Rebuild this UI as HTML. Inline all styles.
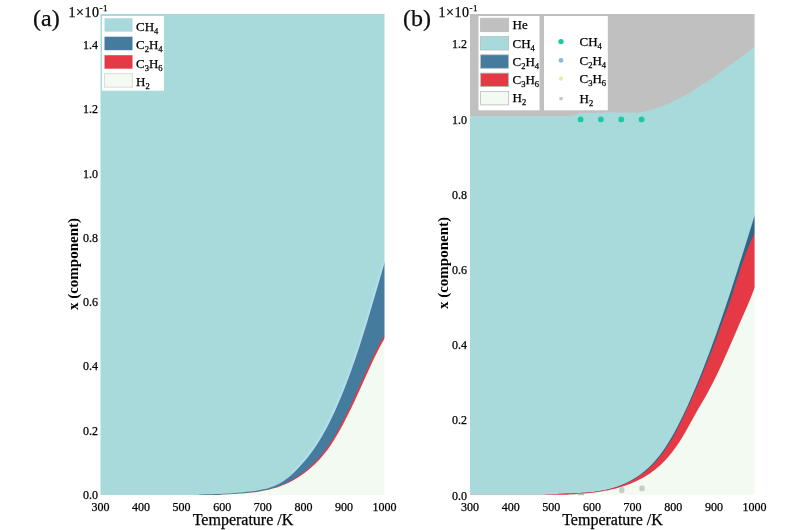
<!DOCTYPE html>
<html><head><meta charset="utf-8"><title>Equilibrium composition</title>
<style>
html,body{margin:0;padding:0;background:#fff;}
svg{display:block;}
text{font-family:"Liberation Serif",serif;fill:#000;stroke:#000;stroke-width:0.25px;}
.tk{font-size:12px;}
.ax{font-size:16px;}
.yl{font-size:15px;font-weight:bold;stroke:none;}
.pn{font-size:24px;fill:#111;}
.ex{font-size:14px;letter-spacing:0.5px;}
.sp{font-size:9px;}
.lg{font-size:13px;}
.sb{font-size:8.5px;}
</style></head><body>
<svg width="800" height="530" viewBox="0 0 800 530">
<rect width="800" height="530" fill="#fff"/>
<rect x="97.5" y="11" width="290.0" height="487.0" fill="#a8dadc"/>
<polyline fill="none" stroke="#b1deec" stroke-width="4.5" points="292.5,473.9 295.0,471.5 297.5,468.9 300.0,466.3 302.5,463.5 305.0,460.7 307.5,457.7 310.0,454.5 312.5,451.1 315.0,447.5 317.5,443.7 320.0,439.7 322.5,435.5 325.0,431.0 327.5,426.4 330.0,421.4 332.5,416.3 335.0,410.9 337.5,405.3 340.0,399.5 342.5,393.5 345.0,387.2 347.5,380.7 350.0,374.0 352.5,367.1 355.0,359.9 357.5,352.5 360.0,345.0 362.5,337.1 365.0,329.1 367.5,321.0 370.0,312.6 372.5,304.1 375.0,295.5 377.5,286.9 380.0,278.3 382.5,269.8 384.5,263.1"/>
<polygon fill="#457b9d" points="97.5,496.0 100.5,496.0 194.0,496.0 200.0,494.4 202.5,494.4 205.0,494.3 207.5,494.3 210.0,494.3 212.5,494.2 215.0,494.1 217.5,494.0 220.0,493.9 222.5,493.8 225.0,493.7 227.5,493.5 230.0,493.4 232.5,493.2 235.0,493.0 237.5,492.8 240.0,492.6 242.5,492.4 245.0,492.1 247.5,491.8 250.0,491.6 252.5,491.3 255.0,490.9 257.5,490.6 260.0,490.1 262.5,489.6 265.0,489.1 267.5,488.4 270.0,487.6 272.5,486.8 275.0,485.7 277.5,484.6 280.0,483.3 282.5,481.8 285.0,480.1 287.5,478.2 290.0,476.2 292.5,473.9 295.0,471.5 297.5,468.9 300.0,466.3 302.5,463.5 305.0,460.7 307.5,457.7 310.0,454.5 312.5,451.1 315.0,447.5 317.5,443.7 320.0,439.7 322.5,435.5 325.0,431.0 327.5,426.4 330.0,421.4 332.5,416.3 335.0,410.9 337.5,405.3 340.0,399.5 342.5,393.5 345.0,387.2 347.5,380.7 350.0,374.0 352.5,367.1 355.0,359.9 357.5,352.5 360.0,345.0 362.5,337.1 365.0,329.1 367.5,321.0 370.0,312.6 372.5,304.1 375.0,295.5 377.5,286.9 380.0,278.3 382.5,269.8 384.5,263.1 387.5,253.1 387.5,498.0 97.5,498.0"/>
<polygon fill="#e63946" points="97.5,496.0 100.5,496.0 216.0,496.0 222.0,494.6 224.5,494.4 227.0,494.3 229.5,494.2 232.0,494.0 234.5,493.9 237.0,493.8 239.5,493.6 242.0,493.4 244.5,493.2 247.0,493.0 249.5,492.8 252.0,492.5 254.5,492.2 257.0,491.8 259.5,491.4 262.0,490.9 264.5,490.4 267.0,489.8 269.5,489.2 272.0,488.5 274.5,487.7 277.0,486.9 279.5,486.0 282.0,485.0 284.5,483.9 287.0,482.7 289.5,481.4 292.0,480.0 294.5,478.5 297.0,476.9 299.5,475.2 302.0,473.4 304.5,471.5 307.0,469.5 309.5,467.3 312.0,465.1 314.5,462.6 317.0,460.1 319.5,457.3 322.0,454.4 324.5,451.2 327.0,447.8 329.5,444.2 332.0,440.3 334.5,436.2 337.0,431.9 339.5,427.4 342.0,422.7 344.5,417.8 347.0,412.9 349.5,407.7 352.0,402.5 354.5,397.1 357.0,391.6 359.5,386.1 362.0,380.6 364.5,375.0 367.0,369.5 369.5,364.1 372.0,358.8 374.5,353.6 377.0,348.7 379.5,344.0 382.0,339.5 384.5,335.4 387.5,330.4 387.5,498.0 97.5,498.0"/>
<polygon fill="#f3faf1" points="97.5,496.0 100.5,496.0 216.0,496.0 222.0,494.6 224.5,494.4 227.0,494.3 229.5,494.2 232.0,494.0 234.5,493.9 237.0,493.8 239.5,493.6 242.0,493.4 244.5,493.2 247.0,493.0 249.5,492.8 252.0,492.5 254.5,492.2 257.0,491.9 259.5,491.5 262.0,491.1 264.5,490.6 267.0,490.1 269.5,489.5 272.0,488.8 274.5,488.1 277.0,487.4 279.5,486.5 282.0,485.6 284.5,484.6 287.0,483.5 289.5,482.3 292.0,481.0 294.5,479.6 297.0,478.1 299.5,476.5 302.0,474.8 304.5,473.0 307.0,471.0 309.5,469.0 312.0,466.8 314.5,464.5 317.0,462.0 319.5,459.4 322.0,456.6 324.5,453.6 327.0,450.4 329.5,446.9 332.0,443.2 334.5,439.3 337.0,435.1 339.5,430.8 342.0,426.2 344.5,421.5 347.0,416.6 349.5,411.6 352.0,406.5 354.5,401.2 357.0,395.8 359.5,390.3 362.0,384.8 364.5,379.2 367.0,373.7 369.5,368.2 372.0,362.8 374.5,357.5 377.0,352.5 379.5,347.6 382.0,342.9 384.5,338.5 387.5,333.3 387.5,498.0 97.5,498.0"/>
<rect x="467" y="11" width="290.6" height="486.8" fill="#c0c0c0"/>
<polygon fill="#a8dadc" points="467.0,116.2 470.0,116.2 568.0,116.2 572.0,116.0 576.0,114.5 580.0,112.9 600.0,112.8 612.5,112.2 615.0,112.6 617.5,112.8 620.0,112.8 622.5,112.8 625.0,112.8 627.5,112.8 630.0,112.8 632.5,112.8 635.0,112.8 637.5,112.7 640.0,112.3 642.5,111.9 645.0,111.4 647.5,110.8 650.0,110.1 652.5,109.4 655.0,108.7 657.5,107.8 660.0,107.0 662.5,106.0 665.0,105.0 667.5,104.0 670.0,102.9 672.5,101.7 675.0,100.5 677.5,99.3 680.0,98.0 682.5,96.6 685.0,95.3 687.5,93.9 690.0,92.4 692.5,90.9 695.0,89.4 697.5,87.8 700.0,86.2 702.5,84.6 705.0,83.0 707.5,81.3 710.0,79.6 712.5,77.9 715.0,76.1 717.5,74.4 720.0,72.6 722.5,70.8 725.0,69.0 727.5,67.1 730.0,65.3 732.5,63.4 735.0,61.6 737.5,59.7 740.0,57.8 742.5,56.0 745.0,54.1 747.5,52.2 750.0,50.3 752.5,48.5 754.6,46.9 757.6,44.7 757.6,497.8 467.0,497.8"/>
<polygon fill="#2f6685" points="467.0,495.8 470.0,495.8 539.0,495.8 545.0,494.8 547.5,494.6 550.0,494.4 552.5,494.2 555.0,494.0 557.5,493.9 560.0,493.8 562.5,493.7 565.0,493.6 567.5,493.5 570.0,493.4 572.5,493.3 575.0,493.2 577.5,493.1 580.0,493.0 582.5,492.8 585.0,492.7 587.5,492.5 590.0,492.2 592.5,492.0 595.0,491.7 597.5,491.3 600.0,490.9 602.5,490.5 605.0,490.0 607.5,489.4 610.0,488.8 612.5,488.1 615.0,487.3 617.5,486.5 620.0,485.5 622.5,484.5 625.0,483.4 627.5,482.2 630.0,480.9 632.5,479.5 635.0,478.0 637.5,476.4 640.0,474.7 642.5,472.8 645.0,470.8 647.5,468.6 650.0,466.3 652.5,463.8 655.0,461.1 657.5,458.1 660.0,455.0 662.5,451.6 665.0,448.0 667.5,444.1 670.0,440.0 672.5,435.7 675.0,431.2 677.5,426.5 680.0,421.6 682.5,416.5 685.0,411.3 687.5,405.9 690.0,400.3 692.5,394.6 695.0,388.8 697.5,382.8 700.0,376.7 702.5,370.4 705.0,364.1 707.5,357.5 710.0,350.9 712.5,344.1 715.0,337.2 717.5,330.2 720.0,323.1 722.5,315.8 725.0,308.5 727.5,301.0 730.0,293.4 732.5,285.8 735.0,278.0 737.5,270.2 740.0,262.3 742.5,254.4 745.0,246.4 747.5,238.4 750.0,230.4 752.5,222.5 754.6,215.8 757.6,206.2 757.6,497.8 467.0,497.8"/>
<polygon fill="#e63946" points="467.0,494.8 470.0,494.8 539.0,494.8 545.0,494.8 547.5,494.6 550.0,494.4 552.5,494.2 555.0,494.0 557.5,493.9 560.0,493.8 562.5,493.7 565.0,493.6 567.5,493.5 570.0,493.4 572.5,493.3 575.0,493.2 577.5,493.1 580.0,493.0 582.5,492.8 585.0,492.7 587.5,492.5 590.0,492.2 592.5,492.0 595.0,491.7 597.5,491.3 600.0,490.9 602.5,490.5 605.0,490.0 607.5,489.5 610.0,488.9 612.5,488.2 615.0,487.5 617.5,486.7 620.0,485.8 622.5,484.8 625.0,483.8 627.5,482.7 630.0,481.4 632.5,480.1 635.0,478.7 637.5,477.2 640.0,475.6 642.5,473.8 645.0,471.9 647.5,469.8 650.0,467.5 652.5,465.1 655.0,462.5 657.5,459.7 660.0,456.6 662.5,453.4 665.0,449.9 667.5,446.1 670.0,442.2 672.5,438.0 675.0,433.6 677.5,428.9 680.0,424.0 682.5,418.8 685.0,413.5 687.5,408.0 690.0,402.5 692.5,397.0 695.0,391.4 697.5,385.7 700.0,379.8 702.5,373.9 705.0,367.8 707.5,361.6 710.0,355.3 712.5,348.9 715.0,342.3 717.5,335.5 720.0,328.6 722.5,321.6 725.0,314.9 727.5,308.2 730.0,301.3 732.5,294.0 735.0,286.1 737.5,278.0 740.0,270.2 742.5,262.8 745.0,255.9 747.5,249.3 750.0,243.2 752.5,237.4 754.6,232.7 757.6,226.1 757.6,497.8 467.0,497.8"/>
<polygon fill="#f3faf1" points="467.0,495.8 470.0,495.8 564.0,495.8 570.0,494.6 572.5,494.5 575.0,494.3 577.5,494.1 580.0,493.9 582.5,493.7 585.0,493.5 587.5,493.2 590.0,493.0 592.5,492.7 595.0,492.4 597.5,492.0 600.0,491.7 602.5,491.3 605.0,490.8 607.5,490.4 610.0,489.8 612.5,489.3 615.0,488.7 617.5,488.0 620.0,487.3 622.5,486.5 625.0,485.7 627.5,484.8 630.0,483.9 632.5,482.8 635.0,481.8 637.5,480.6 640.0,479.3 642.5,478.0 645.0,476.6 647.5,475.0 650.0,473.4 652.5,471.6 655.0,469.7 657.5,467.6 660.0,465.4 662.5,463.0 665.0,460.4 667.5,457.7 670.0,454.8 672.5,451.7 675.0,448.3 677.5,444.8 680.0,441.0 682.5,437.0 685.0,432.8 687.5,428.3 690.0,423.7 692.5,419.2 695.0,414.7 697.5,410.3 700.0,406.0 702.5,401.7 705.0,397.4 707.5,392.9 710.0,388.3 712.5,383.6 715.0,378.6 717.5,373.5 720.0,368.1 722.5,362.7 725.0,357.1 727.5,351.5 730.0,345.7 732.5,340.0 735.0,334.2 737.5,328.4 740.0,322.6 742.5,316.9 745.0,311.2 747.5,305.4 750.0,299.5 752.5,293.3 754.6,287.9 757.6,280.2 757.6,497.8 467.0,497.8"/>
<path fill="#fff" fill-rule="evenodd" d="M95.5,9H389.5V500H95.5Z M100.5,14H384.5V495H100.5Z"/>
<path fill="#fff" fill-rule="evenodd" d="M465,9H759.6V499.8H465Z M470,14H754.6V494.8H470Z"/>
<circle cx="580.6" cy="119.4" r="2.9" fill="#1ec8a5"/>
<circle cx="600.9" cy="119.4" r="2.9" fill="#1ec8a5"/>
<circle cx="621.3" cy="119.4" r="2.9" fill="#1ec8a5"/>
<circle cx="641.6" cy="119.4" r="2.9" fill="#1ec8a5"/>
<rect x="619.0" y="487.1" width="5.4" height="5.8" rx="1.6" fill="#c9cec0"/>
<rect x="639.3" y="485.40000000000003" width="5.4" height="5.8" rx="1.6" fill="#c9cec0"/>
<rect x="578" y="493.6" width="6" height="1.6" fill="#b9b9b9"/>
<rect x="102" y="16" width="62" height="74.7" fill="#fff"/>
<rect x="104.5" y="18.2" width="28" height="13.5" fill="#a8dadc"/>
<text class="lg" x="136" y="30.5">CH<tspan class="sb" dy="3">4</tspan></text>
<rect x="104.5" y="36.7" width="28" height="13.5" fill="#457b9d"/>
<text class="lg" x="136" y="49.0">C<tspan class="sb" dy="3">2</tspan><tspan dy="-3">H</tspan><tspan class="sb" dy="3">4</tspan></text>
<rect x="104.5" y="55.2" width="28" height="13.5" fill="#e63946"/>
<text class="lg" x="136" y="67.5">C<tspan class="sb" dy="3">3</tspan><tspan dy="-3">H</tspan><tspan class="sb" dy="3">6</tspan></text>
<rect x="104.5" y="73.7" width="28" height="13.5" fill="#f3faf1" stroke="#d4d4d4" stroke-width="0.8"/>
<text class="lg" x="136" y="86.0">H<tspan class="sb" dy="3">2</tspan></text>
<rect x="478.5" y="16" width="61" height="94.3" fill="#fff"/>
<rect x="544" y="16" width="63.8" height="94.3" fill="#fff"/>
<rect x="480.6" y="18.2" width="28" height="13.5" fill="#c0c0c0" stroke="#b8bcbc" stroke-width="0.8"/>
<text class="lg" x="512.5" y="29.2">He</text>
<rect x="480.6" y="36.5" width="28" height="13.5" fill="#a8dadc" stroke="#b8bcbc" stroke-width="0.8"/>
<text class="lg" x="512.5" y="47.5">CH<tspan class="sb" dy="3">4</tspan></text>
<rect x="480.6" y="54.8" width="28" height="13.5" fill="#457b9d" stroke="#b8bcbc" stroke-width="0.8"/>
<text class="lg" x="512.5" y="65.8">C<tspan class="sb" dy="3">2</tspan><tspan dy="-3">H</tspan><tspan class="sb" dy="3">4</tspan></text>
<rect x="480.6" y="73.1" width="28" height="13.5" fill="#e63946" stroke="#b8bcbc" stroke-width="0.8"/>
<text class="lg" x="512.5" y="84.1">C<tspan class="sb" dy="3">3</tspan><tspan dy="-3">H</tspan><tspan class="sb" dy="3">6</tspan></text>
<rect x="480.6" y="91.4" width="28" height="13.5" fill="#f3faf1" stroke="#b8bcbc" stroke-width="0.8"/>
<text class="lg" x="512.5" y="102.4">H<tspan class="sb" dy="3">2</tspan></text>
<circle cx="561" cy="41.6" r="2.7" fill="#1ec8a5"/>
<text class="lg" x="579.5" y="46.1">CH<tspan class="sb" dy="3">4</tspan></text>
<circle cx="561" cy="60.4" r="2.4" fill="#8db9dc"/>
<text class="lg" x="579.5" y="64.9">C<tspan class="sb" dy="3">2</tspan><tspan dy="-3">H</tspan><tspan class="sb" dy="3">4</tspan></text>
<circle cx="561" cy="78.5" r="2.2" fill="#e8eeaa"/>
<text class="lg" x="579.5" y="83.0">C<tspan class="sb" dy="3">3</tspan><tspan dy="-3">H</tspan><tspan class="sb" dy="3">6</tspan></text>
<rect x="559.4" y="97.0" width="3.2" height="3.2" fill="#c4c4c4"/>
<text class="lg" x="579.5" y="103.1">H<tspan class="sb" dy="3">2</tspan></text>
<text class="tk" text-anchor="middle" x="100.5" y="511">300</text>
<text class="tk" text-anchor="middle" x="470.0" y="511">300</text>
<text class="tk" text-anchor="middle" x="141.1" y="511">400</text>
<text class="tk" text-anchor="middle" x="510.7" y="511">400</text>
<text class="tk" text-anchor="middle" x="181.6" y="511">500</text>
<text class="tk" text-anchor="middle" x="551.3" y="511">500</text>
<text class="tk" text-anchor="middle" x="222.2" y="511">600</text>
<text class="tk" text-anchor="middle" x="592.0" y="511">600</text>
<text class="tk" text-anchor="middle" x="262.8" y="511">700</text>
<text class="tk" text-anchor="middle" x="632.6" y="511">700</text>
<text class="tk" text-anchor="middle" x="303.4" y="511">800</text>
<text class="tk" text-anchor="middle" x="673.3" y="511">800</text>
<text class="tk" text-anchor="middle" x="343.9" y="511">900</text>
<text class="tk" text-anchor="middle" x="713.9" y="511">900</text>
<text class="tk" text-anchor="middle" x="384.5" y="511">1000</text>
<text class="tk" text-anchor="middle" x="754.6" y="511">1000</text>
<text class="tk" text-anchor="end" x="98" y="499.0">0.0</text>
<text class="tk" text-anchor="end" x="98" y="434.7">0.2</text>
<text class="tk" text-anchor="end" x="98" y="370.4">0.4</text>
<text class="tk" text-anchor="end" x="98" y="306.2">0.6</text>
<text class="tk" text-anchor="end" x="98" y="241.9">0.8</text>
<text class="tk" text-anchor="end" x="98" y="177.6">1.0</text>
<text class="tk" text-anchor="end" x="98" y="113.3">1.2</text>
<text class="tk" text-anchor="end" x="98" y="49.0">1.4</text>
<text class="tk" text-anchor="end" x="467" y="499.5">0.0</text>
<text class="tk" text-anchor="end" x="467" y="424.3">0.2</text>
<text class="tk" text-anchor="end" x="467" y="349.1">0.4</text>
<text class="tk" text-anchor="end" x="467" y="273.9">0.6</text>
<text class="tk" text-anchor="end" x="467" y="198.7">0.8</text>
<text class="tk" text-anchor="end" x="467" y="123.5">1.0</text>
<text class="tk" text-anchor="end" x="467" y="48.3">1.2</text>
<text class="ax" text-anchor="middle" x="243" y="525">Temperature /K</text>
<text class="ax" text-anchor="middle" x="612.5" y="525">Temperature /K</text>
<text class="yl" text-anchor="middle" transform="translate(77.5,264) rotate(-90)">x (component)</text>
<text class="yl" text-anchor="middle" transform="translate(447.7,263) rotate(-90)">x (component)</text>
<text class="pn" x="33" y="26">(a)</text>
<text class="pn" x="403" y="26">(b)</text>
<text class="ex" x="68.5" y="17">1×10<tspan class="sp" dy="-6">-1</tspan></text>
<text class="ex" x="438.5" y="17">1×10<tspan class="sp" dy="-6">-1</tspan></text>
</svg>
</body></html>
